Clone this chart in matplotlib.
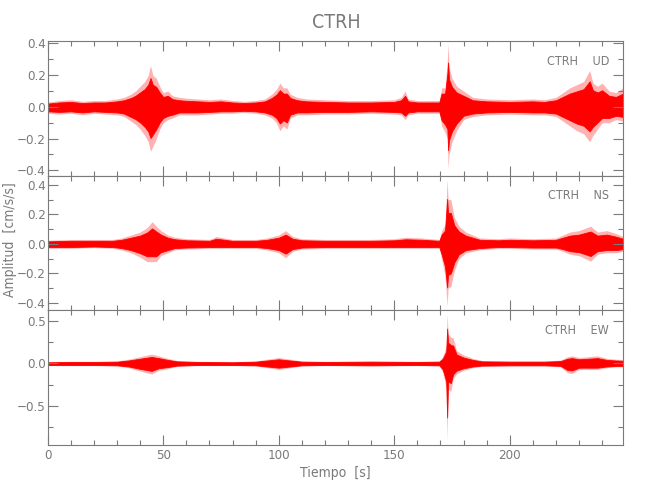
import matplotlib
matplotlib.use("Agg")
import matplotlib.pyplot as plt
from matplotlib.ticker import MultipleLocator

# envelope of each component: time [s], upper and lower amplitude [cm/s/s]
ud_t = [0, 5, 10, 15, 20, 25, 30, 33, 36, 38, 40, 42, 43.5, 44.5, 45.5, 47, 48.5, 50, 52, 54, 57,
        60, 65, 70, 75, 80, 85, 90, 94, 97, 99, 100.5, 102, 103.5, 105, 108, 112, 120, 130, 140,
        150, 153, 154.7, 156, 160, 165, 169.5, 170.5, 172, 173, 173.3, 173.7, 175, 177, 180, 184,
        190, 200, 210, 215, 220, 223, 226, 229, 232, 234.6, 236, 238, 240, 243, 246, 249]
ud_up = [0.03, 0.04, 0.045, 0.035, 0.04, 0.04, 0.05, 0.06, 0.08, 0.10, 0.13, 0.16, 0.20, 0.26, 0.20,
         0.18, 0.13, 0.09, 0.10, 0.07, 0.06, 0.055, 0.05, 0.045, 0.05, 0.04, 0.035, 0.04, 0.05, 0.08,
         0.11, 0.15, 0.12, 0.12, 0.08, 0.06, 0.05, 0.045, 0.04, 0.04, 0.045, 0.06, 0.10, 0.05, 0.04,
         0.04, 0.04, 0.12, 0.12, 0.30, 0.40, 0.25, 0.18, 0.13, 0.10, 0.06, 0.05, 0.045, 0.05, 0.045,
         0.06, 0.09, 0.12, 0.14, 0.16, 0.23, 0.15, 0.13, 0.15, 0.10, 0.09, 0.12]
ud_lo = [-0.04, -0.045, -0.04, -0.05, -0.04, -0.045, -0.05, -0.06, -0.09, -0.11, -0.14, -0.18, -0.22,
         -0.28, -0.25, -0.20, -0.14, -0.10, -0.08, -0.07, -0.05, -0.05, -0.05, -0.045, -0.04, -0.04,
         -0.035, -0.04, -0.05, -0.07, -0.10, -0.15, -0.12, -0.14, -0.07, -0.05, -0.05, -0.045, -0.045,
         -0.04, -0.045, -0.05, -0.08, -0.05, -0.04, -0.04, -0.04, -0.12, -0.16, -0.20, -0.39, -0.30,
         -0.22, -0.15, -0.08, -0.06, -0.05, -0.045, -0.05, -0.05, -0.06, -0.09, -0.12, -0.15, -0.17,
         -0.22, -0.18, -0.14, -0.10, -0.10, -0.08, -0.09]

ns_t = [0, 10, 20, 28, 32, 36, 40, 43, 45.2, 47, 49, 52, 55, 60, 70, 73, 80, 90, 95, 100, 103, 106,
        110, 120, 130, 140, 150, 155, 162, 169.5, 170.5, 172, 172.9, 173.3, 174.5, 176, 178, 181, 184,
        187, 195, 200, 210, 220, 223, 226, 230, 235, 238, 242, 246, 249]
ns_up = [0.025, 0.03, 0.03, 0.03, 0.04, 0.06, 0.08, 0.11, 0.15, 0.12, 0.09, 0.06, 0.045, 0.035, 0.03,
         0.05, 0.03, 0.03, 0.04, 0.06, 0.09, 0.05, 0.035, 0.03, 0.03, 0.03, 0.035, 0.045, 0.04, 0.03,
         0.09, 0.13, 0.435, 0.30, 0.30, 0.18, 0.12, 0.08, 0.06, 0.04, 0.035, 0.04, 0.035, 0.04, 0.06,
         0.08, 0.09, 0.12, 0.08, 0.09, 0.07, 0.05]
ns_lo = [-0.03, -0.03, -0.025, -0.03, -0.04, -0.06, -0.09, -0.12, -0.12, -0.12, -0.08, -0.06, -0.04,
         -0.035, -0.03, -0.03, -0.03, -0.03, -0.04, -0.06, -0.094, -0.05, -0.035, -0.03, -0.03, -0.03,
         -0.03, -0.03, -0.03, -0.03, -0.10, -0.22, -0.42, -0.30, -0.285, -0.18, -0.10, -0.06, -0.05,
         -0.04, -0.03, -0.03, -0.035, -0.035, -0.05, -0.07, -0.08, -0.117, -0.07, -0.06, -0.06, -0.05]

ew_t = [0, 10, 20, 30, 35, 40, 45, 48, 52, 56, 65, 80, 90, 95, 100, 105, 110, 120, 140, 160, 169.5,
        171, 172.5, 172.9, 173.3, 174.5, 175.5, 177, 180, 184, 188, 200, 215, 222, 225, 227, 230, 234,
        238, 242, 246, 249]
ew_up = [0.02, 0.025, 0.025, 0.03, 0.05, 0.08, 0.11, 0.09, 0.06, 0.035, 0.025, 0.02, 0.03, 0.05, 0.07,
         0.05, 0.03, 0.025, 0.03, 0.025, 0.03, 0.08, 0.20, 0.586, 0.35, 0.31, 0.30, 0.15, 0.10, 0.06,
         0.035, 0.03, 0.03, 0.04, 0.08, 0.09, 0.07, 0.08, 0.09, 0.06, 0.05, 0.045]
ew_lo = [-0.025, -0.025, -0.025, -0.03, -0.05, -0.09, -0.125, -0.08, -0.06, -0.035, -0.025, -0.025,
         -0.03, -0.05, -0.07, -0.05, -0.03, -0.025, -0.03, -0.025, -0.03, -0.10, -0.30, -0.907, -0.30,
         -0.33, -0.18, -0.12, -0.08, -0.05, -0.035, -0.03, -0.03, -0.04, -0.11, -0.117, -0.07, -0.07,
         -0.07, -0.05, -0.04, -0.04]

station = "CTRH"
components = ["UD", "NS", "EW"]
ylims = [(-0.433, 0.416), (-0.449, 0.462), (-0.958, 0.625)]
ymajor = [0.2, 0.2, 0.5]
yminor = [0.1, 0.1, 0.25]

grey = "#7a7a7a"
plt.rcParams['font.family'] = ['DejaVu Sans', 'Liberation Sans']
plt.rcParams['font.stretch'] = 'condensed'

fig = plt.figure(figsize=(6.5, 5), dpi=100)
left, width, h = 0.0734, 0.885, 0.2694
bottoms = [0.11 + 2 * h, 0.11 + h, 0.11]
data = [(ud_t, ud_up, ud_lo), (ns_t, ns_up, ns_lo), (ew_t, ew_up, ew_lo)]

for i, (t, up, lo) in enumerate(data):
    ax = fig.add_axes([left, bottoms[i], width, h])
    # pale outer halo and solid core, like the dense trace in the original
    ax.fill_between(t, lo, up, color="red", alpha=0.3, lw=0)
    ax.fill_between(t, [v * 0.7 for v in lo], [v * 0.7 for v in up], color="red", lw=0.6)
    ax.set_xlim(0, 249)
    ax.set_ylim(*ylims[i])
    ax.xaxis.set_major_locator(MultipleLocator(50))
    ax.xaxis.set_minor_locator(MultipleLocator(10))
    ax.yaxis.set_major_locator(MultipleLocator(ymajor[i]))
    ax.yaxis.set_minor_locator(MultipleLocator(yminor[i]))
    ax.tick_params(which="both", direction="in", top=True, right=True, colors=grey,
                   labelsize=9.5, width=0.8, pad=1.5)
    ax.tick_params(which="major", length=7)
    ax.tick_params(which="minor", length=3.5)
    for s in ax.spines.values():
        s.set_color(grey)
        s.set_linewidth(0.8)
    ax.yaxis.set_major_formatter(plt.FuncFormatter(lambda v, p: f"{v:.1f}".replace("-", "\u2212")))
    if i < 2:
        ax.tick_params(labelbottom=False)
    else:
        ax.tick_params(axis="x", pad=3)
        ax.set_xlabel("Tiempo  [s]", color=grey, fontsize=10, labelpad=3)
    ax.text(0.976, 0.85, f"{station}    {components[i]}", transform=ax.transAxes,
            ha="right", va="center", color=grey, fontsize=9)

fig.text(0.016, 0.52, "Amplitud  [cm/s/s]", rotation=90, ha="center", va="center",
         color=grey, fontsize=10)
fig.text(0.517, 0.954, station, ha="center", va="center", color=grey, fontsize=14)
fig.savefig("out.png", dpi=100)
